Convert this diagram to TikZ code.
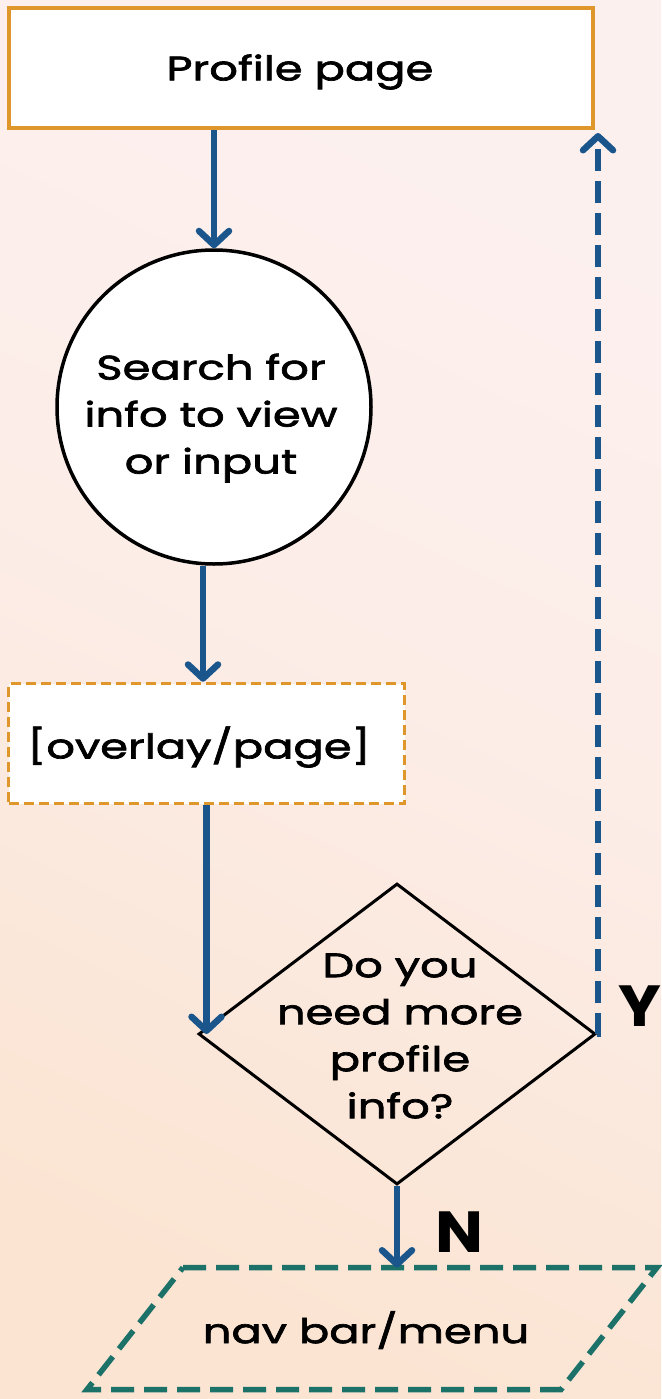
\documentclass[tikz,border=0pt]{standalone}
\usepackage{fontspec}
\setmainfont{Poppins}[FakeStretch=1.32, FakeBold=2]
\newfontfamily\answerfont{Poppins}[FakeStretch=1.1]
\usetikzlibrary{arrows.meta,shapes.geometric}
\definecolor{bgpink}{HTML}{FCF0EF}
\definecolor{bgpeach}{HTML}{FBE4D2}
\definecolor{boxorange}{HTML}{DF962B}
\definecolor{flowblue}{HTML}{1A568C}
\definecolor{navteal}{HTML}{1C7168}
\tikzset{
  label font/.style={font=\fontsize{34}{47}\selectfont},
  procbox/.style={draw=boxorange, line width=4pt, fill=white, rectangle, label font},
  overlaybox/.style={procbox, line width=3.5pt, dash pattern=on 10pt off 5pt},
  searchcircle/.style={draw=black, line width=3.5pt, fill=white, circle, inner sep=0pt},
  decision/.style={draw=black, line width=3pt, diamond, inner sep=0pt},
  flow/.style={draw=flowblue, line width=6.5pt, -{Straight Barb[length=14pt, width=30pt, round]}},
  backflow/.style={flow, dash pattern=on 22pt off 10pt},
  navline/.style={draw=navteal, line width=5.5pt, dash pattern=on 23pt off 10pt},
  answer/.style={font=\answerfont\bfseries\fontsize{58}{58}\selectfont},
  plain text/.style={label font, align=center}
}
\begin{document}
\begin{tikzpicture}[x=1pt,y=-1pt]
  % page background with a soft pink-to-peach wash
  \shade[top color=bgpink, bottom color=bgpeach, middle color=bgpink!70!bgpeach, shading angle=-25]
    (0,0) rectangle (661,1399);
  \useasboundingbox (0,0) rectangle (661,1399);

  % process steps
  \node[procbox, minimum width=584pt, minimum height=120pt] (profile) at (300.5,68.5) {};
  \node[label font] (profiletext) at (300,72) {Profile page};
  \node[searchcircle, minimum size=314pt] (search) at (214,407) {};
  \node[plain text] (searchtext) at (211,418) {Search for\\info to view\\or input};
  \node[overlaybox, minimum width=396pt, minimum height=120pt] (overlay) at (206.5,743.5) {};
  \node[label font] (overlaytext) at (199,747) {[overlay/page]};

  % decision
  \node[decision, minimum width=397pt, minimum height=301pt] (dec) at (397,1034) {};
  \node[plain text] (dectext) at (400,1036) {Do you\\need more\\profile\\info?};

  % output: navigation parallelogram
  \coordinate (pTL) at (183,1267.5);
  \coordinate (pTR) at (657,1267.5);
  \coordinate (pBR) at (561,1389.5);
  \coordinate (pBL) at (87,1389.5);
  \draw[navline] (pTL) -- (pTR) -- (pBR) -- (pBL) -- cycle;
  \node[label font] (nav) at (366,1330) {nav bar/menu};

  % connectors
  \coordinate (ytop) at (598,133);
  \draw[flow] (search.north |- profile.south) -- (search.north);
  \draw[flow] ([xshift=-11pt]search.south) -- ([xshift=-11pt]search.south |- overlay.north);
  \draw[flow] (overlay.south) -- (overlay.south |- dec.west);
  \draw[backflow] (dec.east) -| (ytop);
  \draw[flow] (dec.south) -- (dec.south |- pTL);

  % answer labels
  \node[answer] (yes) at (640,1006) {Y};
  \node[answer] (no) at (459,1232) {N};
\end{tikzpicture}
\end{document}
